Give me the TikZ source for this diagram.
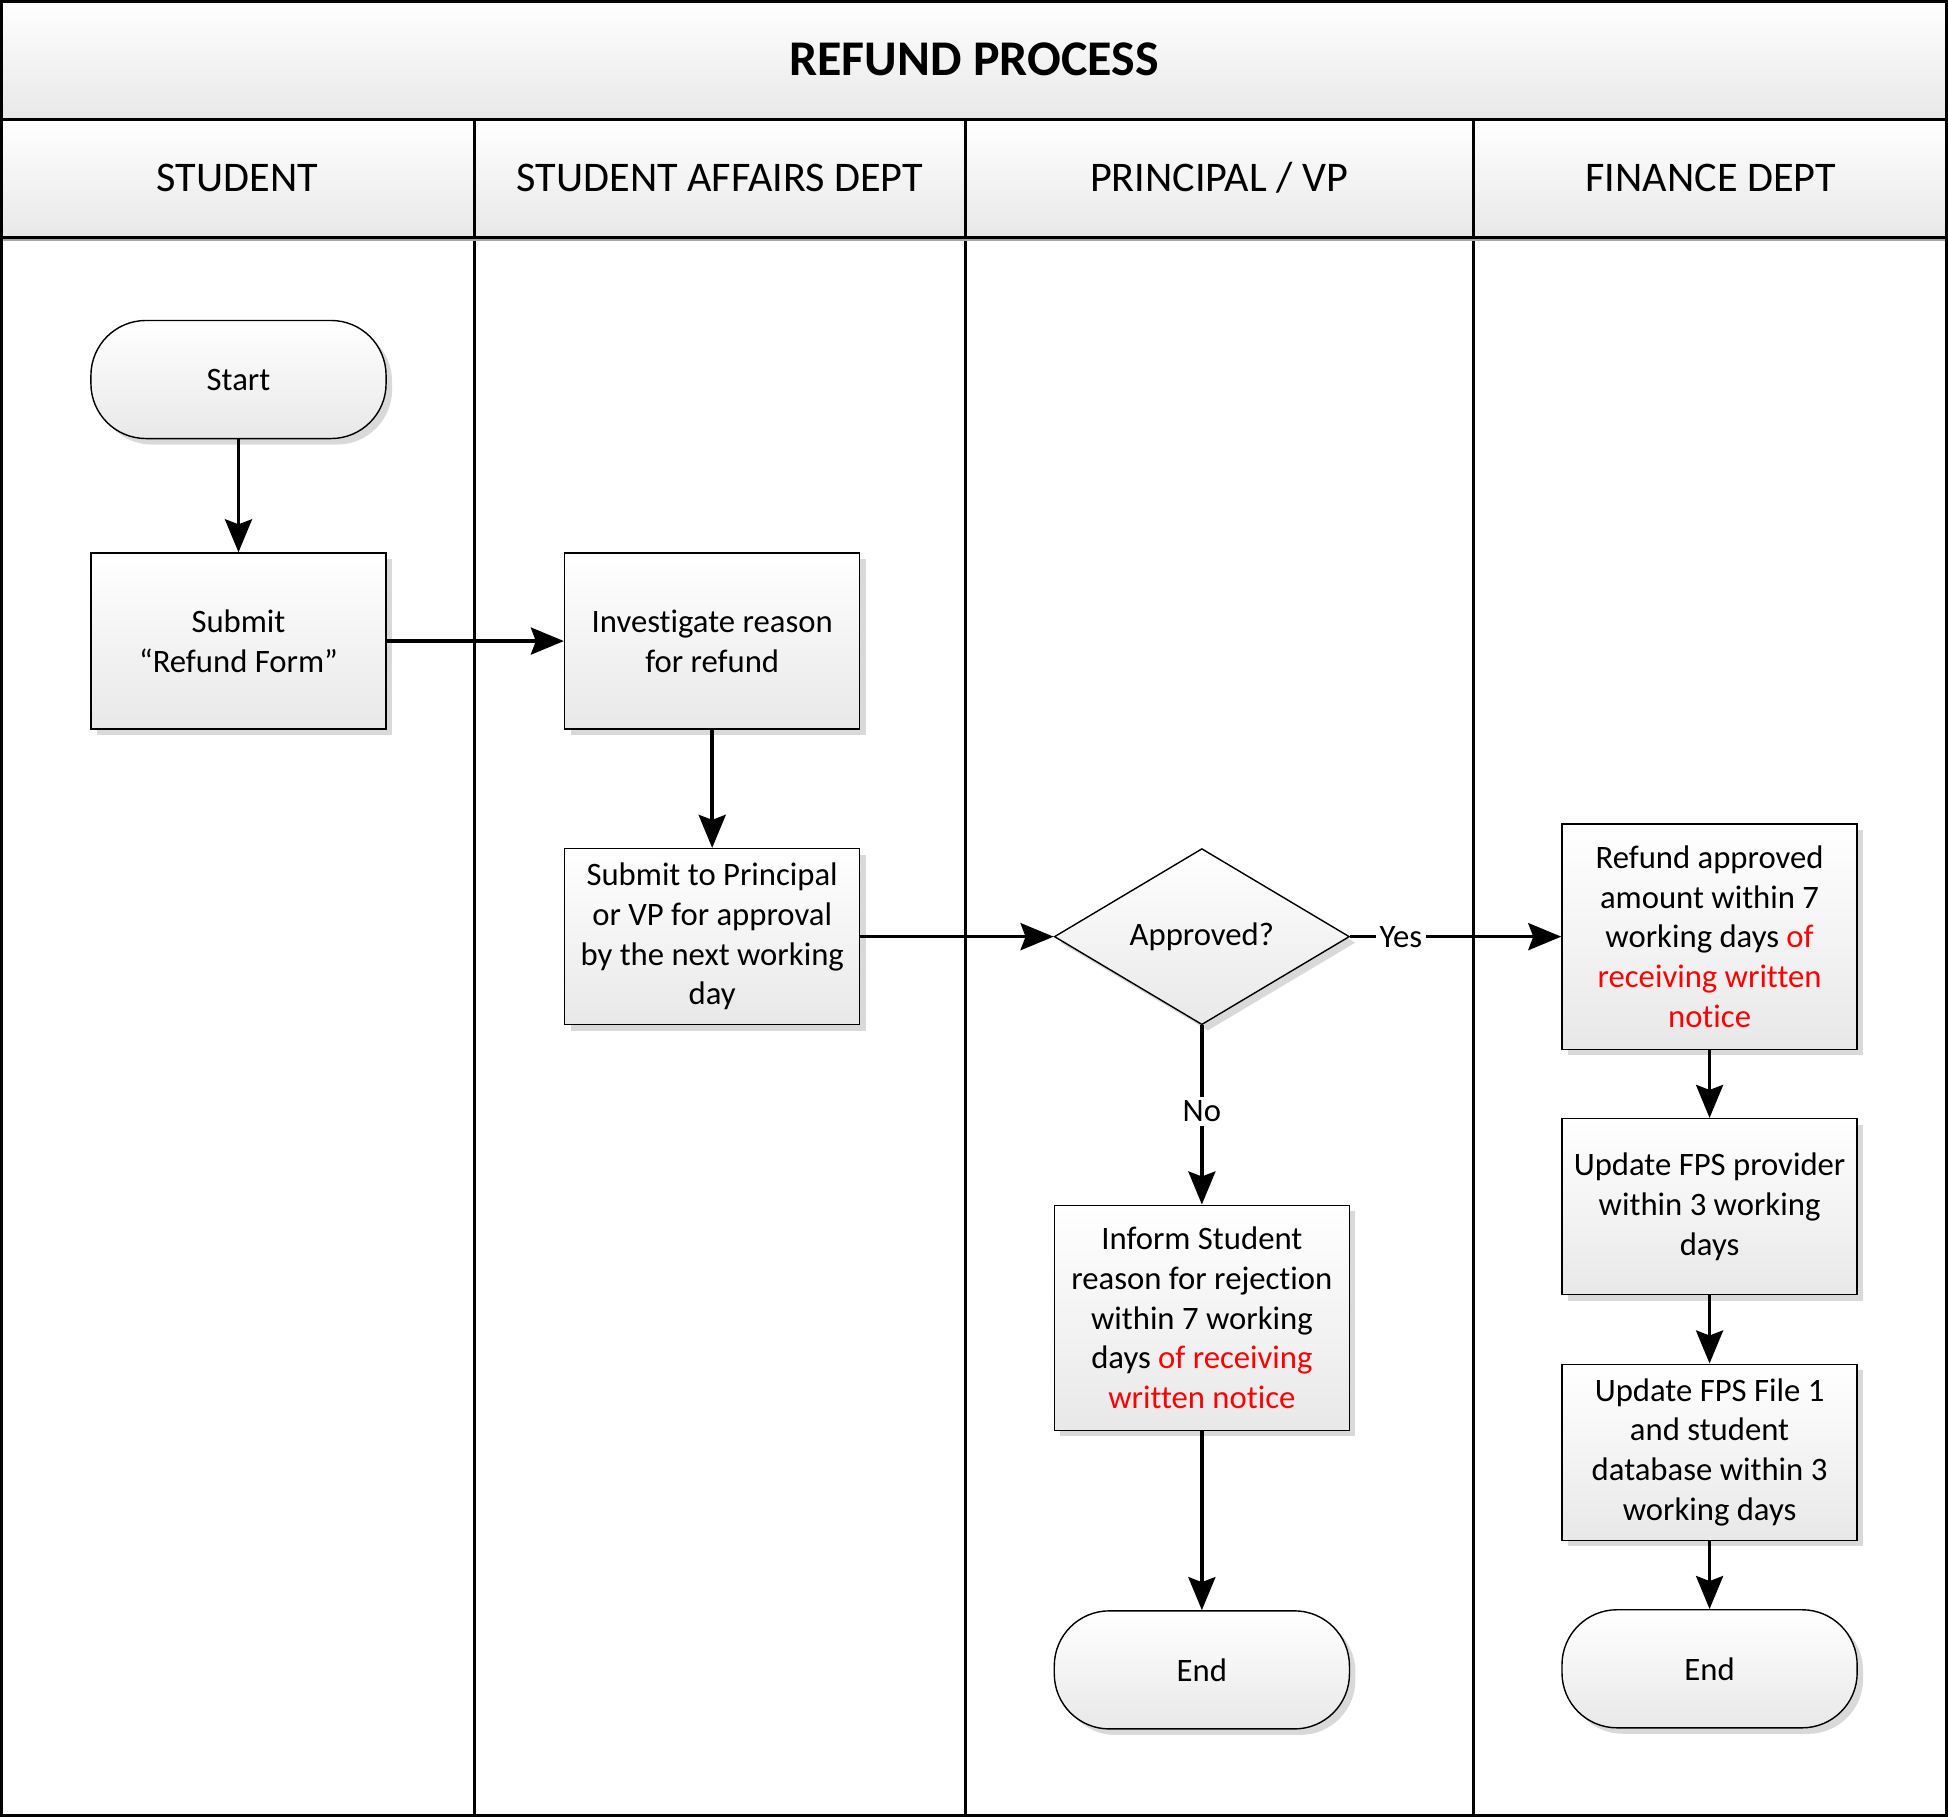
\documentclass[tikz,border=0pt]{standalone}
\usepackage{fontspec}
\setmainfont{Carlito}[Ligatures=NoCommon]
\usetikzlibrary{positioning,shapes.geometric,shadows,arrows.meta}

\begin{document}
\begin{tikzpicture}[x=0.01cm,y=-0.01cm,>={Stealth[length=0.33cm,width=0.27cm,inset=0.05cm]},
		node distance=1.13cm,font=\fontsize{9.3}{11.3}\selectfont,
		base node/.style={draw,line width=0.4pt,top color=white,bottom color=black!9,align=center,inner sep=2pt,
			drop shadow={shadow xshift=0.06cm,shadow yshift=-0.06cm,fill=black!15,opacity=1}},
		task node/.style={base node,rectangle,minimum width=2.95cm,minimum height=1.76cm},
		tall node/.style={task node,minimum height=2.25cm},
		term node/.style={base node,rectangle,rounded corners=0.55cm,minimum width=2.95cm,minimum height=1.18cm},
		test node/.style={base node,diamond,minimum width=2.95cm,minimum height=1.76cm,inner sep=0pt},
		head/.style={font=\fontsize{12}{15}\selectfont},
		lane/.style={line width=0.7pt},
		flow/.style={->,line width=1pt},
		tag/.style={fill=white,inner sep=1pt}]
		% Rahmen und Bahnen
		\useasboundingbox (0,0) rectangle (1948,1817);
		\shade[top color=white,bottom color=black!9] (0,0) rectangle (1948,119);
		\shade[top color=white,bottom color=black!9] (0,119) rectangle (1948,237);
		\foreach \x in {474.6,965.3,1473.4}
			\draw[lane] (\x,119) -- (\x,1817);
		\draw[black!35,line width=0.6pt] (0,240) -- (1948,240);
		\draw[line width=0.85pt] (0,119) -- (1948,119);
		\draw[line width=0.85pt] (0,237) -- (1948,237);
		\draw[line width=0.85pt] (1.5,1.5) rectangle (1946.5,1815.5);
		\node[font=\fontsize{14.2}{17}\selectfont\bfseries] (title) at (974,59.6) {REFUND PROCESS};
		\foreach \x/\t [count=\i] in {237.3/STUDENT,720/STUDENT AFFAIRS DEPT,1219/{PRINCIPAL / VP},1710.7/FINANCE DEPT}
			\node[head] (h\i) at (\x,177.6) {\t};
		% Ablauf
		\node[term node] (start) at (238.5,379.5) {Start};
		\node[task node] (form) [below=of start] {Submit\\“Refund Form”};
		\node[task node] (inv) [right=1.77cm of form] {Investigate reason\\for refund};
		\node[task node] (sub) [below=1.18cm of inv] {Submit to Principal\\or VP for approval\\by the next working\\day};
		\node[test node] (ok) [right=1.93cm of sub] {Approved?};
		\node[tall node] (rej) [below=1.79cm of ok] {Inform Student\\reason for rejection\\within 7 working\\days \textcolor{red}{of receiving}\\\textcolor{red}{written notice}};
		\node[term node] (end1) [below=1.79cm of rej] {End};
		\node[tall node] (pay) [right=2.11cm of ok] {Refund approved\\amount within 7\\working days \textcolor{red}{of}\\\textcolor{red}{receiving written}\\\textcolor{red}{notice}};
		\node[task node] (fps) [below=0.68cm of pay] {Update FPS provider\\within 3 working\\days};
		\node[task node] (db) [below=0.68cm of fps] {Update FPS File 1\\and student\\database within 3\\working days};
		\node[term node] (end2) [below=0.68cm of db] {End};
		\path[flow]
		(start) edge (form)
		(form) edge (inv)
		(inv) edge (sub)
		(sub) edge (ok)
		(ok) edge node[tag,pos=0.48] {No} (rej)
		(rej) edge (end1)
		(ok) edge node[tag,pos=0.24] {Yes} (pay)
		(pay) edge (fps)
		(fps) edge (db)
		(db) edge (end2);
\end{tikzpicture}
\end{document}
